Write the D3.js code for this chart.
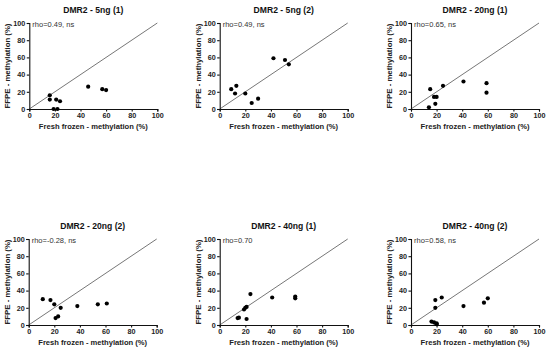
<!DOCTYPE html>
<html><head><meta charset="utf-8">
<script src="https://cdn.jsdelivr.net/npm/d3@7"></script>
<style>body{margin:0;background:#fff}svg{display:block}</style>
</head><body>
<svg id="c" width="550" height="350"></svg>
<script>
const titles = ["DMR2 - 5ng (1)","DMR2 - 5ng (2)","DMR2 - 20ng (1)","DMR2 - 20ng (2)","DMR2 - 40ng (1)","DMR2 - 40ng (2)"];
const rhoLabels = ["rho=0.49, ns","rho=0.49, ns","rho=0.65, ns","rho=-0.28, ns","rho=0.70","rho=0.58, ns"];
const ticks = [0,20,40,60,80,100];
const xLabel = "Fresh frozen - methylation (%)";
const yLabel = "FFPE - methylation (%)";
const fresh1 = [16,16,21,24,19,22,46,57,60];
const ffpe1  = [16,11,11,9,0,0,26,23,22];
const fresh2 = [9,13,12,20,25,30,42,51,54];
const ffpe2  = [23,27,18,18,7,12,59,57,52];
const fresh3 = [15,25,18,20,19,14,41,59,59];
const ffpe3  = [23,27,14,14,6,2,32,30,19];
const fresh4 = [11,17,20,25,21,23,38,54,61];
const ffpe4  = [30,29,24,20,8,10,22,24,25];
const fresh5 = [14,15,19,20,21,24,21,41,59,59];
const ffpe5  = [8,8.5,18,20,21,36,7,32,33,31];
const fresh6 = [16,18,20,20,19,19,24,41,57,60];
const ffpe6  = [4,3,2,1,29,20,32,22,26,31];
const freshAll = [fresh1,fresh2,fresh3,fresh4,fresh5,fresh6];
const ffpeAll = [ffpe1,ffpe2,ffpe3,ffpe4,ffpe5,ffpe6];

const svg = d3.select("#c");
const origins = [[29.3,23],[219.7,23],[411,23],[28.7,239],[219.7,239],[411,239]];
const W = 128, H = 86;
const font = "Liberation Sans, Arial, sans-serif";

titles.forEach((t,i)=>{
  const [ox,oy] = origins[i];
  const g = svg.append("g").attr("transform",`translate(${ox},${oy})`);
  const x = d3.scaleLinear().domain([0,100]).range([0,W]);
  const y = d3.scaleLinear().domain([0,100]).range([H,0]);
  g.append("line").attr("x1",x(0)).attr("y1",y(0)).attr("x2",x(100)).attr("y2",y(100))
    .attr("stroke","#777").attr("stroke-width",1);
  const xa = g.append("g").attr("transform",`translate(0,${H})`)
    .call(d3.axisBottom(x).tickValues(ticks).tickSize(2.5).tickPadding(1.5));
  const ya = g.append("g")
    .call(d3.axisLeft(y).tickValues(ticks).tickSize(2.5).tickPadding(1.5));
  [xa,ya].forEach(a=>{
    a.select(".domain").attr("stroke","#111").attr("stroke-width",1.1);
    a.selectAll(".tick line").attr("stroke","#111").attr("stroke-width",1.1);
    a.selectAll(".tick text").attr("font-family",font).attr("font-size",7.2)
      .attr("font-weight","bold").attr("fill","#222");
  });
  const xs = freshAll[i], ys = ffpeAll[i];
  g.selectAll("circle").data(xs.map((v,k)=>[v,ys[k]])).enter().append("circle")
    .attr("cx",d=>x(d[0])).attr("cy",d=>y(d[1])).attr("r",2.1).attr("fill","#000");
  g.append("text").attr("x",W/2).attr("y",-10).attr("text-anchor","middle")
    .attr("font-family",font).attr("font-size",8.6).attr("font-weight","bold").attr("fill","#111").text(t);
  g.append("text").attr("x",3).attr("y",4).attr("font-family",font).attr("font-size",7.5)
    .attr("fill","#333").text(rhoLabels[i]);
  g.append("text").attr("x",W/2).attr("y",H+20).attr("text-anchor","middle")
    .attr("font-family",font).attr("font-size",7.6).attr("font-weight","bold").attr("fill","#222").text(xLabel);
  g.append("text").attr("transform",`translate(-19,${H/2}) rotate(-90)`).attr("text-anchor","middle")
    .attr("font-family",font).attr("font-size",7.8).attr("font-weight","bold").attr("fill","#222").text(yLabel);
});
</script>
</body></html>
